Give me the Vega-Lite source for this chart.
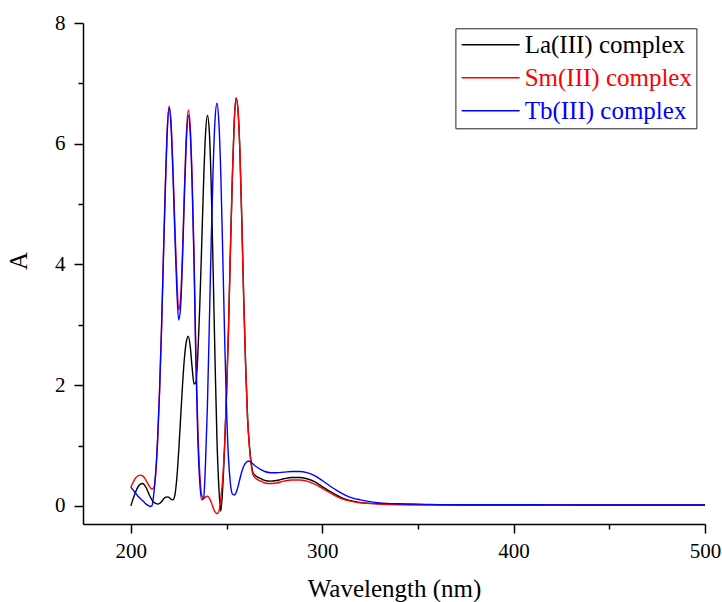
{
  "$schema": "https://vega.github.io/schema/vega-lite/v6.json",
  "width": 622,
  "height": 501,
  "autosize": {"type": "none"},
  "padding": {"left": 83, "top": 23, "right": 17, "bottom": 78},
  "background": "white",
  "config": {
    "view": {"stroke": null},
    "font": "Liberation Serif",
    "axis": {"grid": false, "domainColor": "black", "tickColor": "black", "labelColor": "black", "titleColor": "black", "domainWidth": 1.5, "tickWidth": 1.5, "labelFont": "Liberation Serif", "titleFont": "Liberation Serif", "titleFontWeight": "normal"}
  },
  "datasets": {
    "spectra": [
      {"w":200,"A":0.00,"s":"La(III) complex"},{"w":201,"A":0.10,"s":"La(III) complex"},{"w":202,"A":0.19,"s":"La(III) complex"},{"w":203,"A":0.27,"s":"La(III) complex"},{"w":204,"A":0.33,"s":"La(III) complex"},{"w":205,"A":0.36,"s":"La(III) complex"},{"w":206,"A":0.37,"s":"La(III) complex"},{"w":207,"A":0.35,"s":"La(III) complex"},{"w":208,"A":0.30,"s":"La(III) complex"},{"w":209,"A":0.23,"s":"La(III) complex"},{"w":210,"A":0.16,"s":"La(III) complex"},{"w":211,"A":0.10,"s":"La(III) complex"},{"w":212,"A":0.06,"s":"La(III) complex"},{"w":213,"A":0.04,"s":"La(III) complex"},{"w":214,"A":0.03,"s":"La(III) complex"},{"w":215,"A":0.04,"s":"La(III) complex"},{"w":216,"A":0.07,"s":"La(III) complex"},{"w":217,"A":0.11,"s":"La(III) complex"},{"w":218,"A":0.14,"s":"La(III) complex"},{"w":219,"A":0.15,"s":"La(III) complex"},{"w":220,"A":0.14,"s":"La(III) complex"},{"w":221,"A":0.11,"s":"La(III) complex"},{"w":222,"A":0.10,"s":"La(III) complex"},{"w":223,"A":0.18,"s":"La(III) complex"},{"w":224,"A":0.45,"s":"La(III) complex"},{"w":225,"A":0.9,"s":"La(III) complex"},{"w":226,"A":1.45,"s":"La(III) complex"},{"w":227,"A":2.0,"s":"La(III) complex"},{"w":228,"A":2.45,"s":"La(III) complex"},{"w":229,"A":2.72,"s":"La(III) complex"},{"w":230,"A":2.81,"s":"La(III) complex"},{"w":231,"A":2.65,"s":"La(III) complex"},{"w":232,"A":2.3,"s":"La(III) complex"},{"w":233,"A":2.02,"s":"La(III) complex"},{"w":234,"A":2.05,"s":"La(III) complex"},{"w":235,"A":2.5,"s":"La(III) complex"},{"w":236,"A":3.3,"s":"La(III) complex"},{"w":237,"A":4.3,"s":"La(III) complex"},{"w":238,"A":5.35,"s":"La(III) complex"},{"w":239,"A":6.15,"s":"La(III) complex"},{"w":240,"A":6.47,"s":"La(III) complex"},{"w":241,"A":6.2,"s":"La(III) complex"},{"w":242,"A":5.3,"s":"La(III) complex"},{"w":243,"A":3.9,"s":"La(III) complex"},{"w":244,"A":2.4,"s":"La(III) complex"},{"w":245,"A":1.1,"s":"La(III) complex"},{"w":246,"A":0.3,"s":"La(III) complex"},{"w":247,"A":-0.09,"s":"La(III) complex"},{"w":248,"A":0.3,"s":"La(III) complex"},{"w":249,"A":1.0,"s":"La(III) complex"},{"w":250,"A":1.85,"s":"La(III) complex"},{"w":251,"A":2.9,"s":"La(III) complex"},{"w":252,"A":4.2,"s":"La(III) complex"},{"w":253,"A":5.4,"s":"La(III) complex"},{"w":254,"A":6.35,"s":"La(III) complex"},{"w":255,"A":6.76,"s":"La(III) complex"},{"w":256,"A":6.55,"s":"La(III) complex"},{"w":257,"A":5.85,"s":"La(III) complex"},{"w":258,"A":4.7,"s":"La(III) complex"},{"w":259,"A":3.4,"s":"La(III) complex"},{"w":260,"A":2.3,"s":"La(III) complex"},{"w":261,"A":1.45,"s":"La(III) complex"},{"w":262,"A":0.98,"s":"La(III) complex"},{"w":263,"A":0.69,"s":"La(III) complex"},{"w":264,"A":0.54,"s":"La(III) complex"},{"w":266,"A":0.48,"s":"La(III) complex"},{"w":268,"A":0.45,"s":"La(III) complex"},{"w":270,"A":0.42,"s":"La(III) complex"},{"w":273,"A":0.41,"s":"La(III) complex"},{"w":276,"A":0.42,"s":"La(III) complex"},{"w":280,"A":0.45,"s":"La(III) complex"},{"w":284,"A":0.47,"s":"La(III) complex"},{"w":288,"A":0.47,"s":"La(III) complex"},{"w":292,"A":0.45,"s":"La(III) complex"},{"w":296,"A":0.4,"s":"La(III) complex"},{"w":300,"A":0.32,"s":"La(III) complex"},{"w":304,"A":0.24,"s":"La(III) complex"},{"w":308,"A":0.17,"s":"La(III) complex"},{"w":312,"A":0.11,"s":"La(III) complex"},{"w":316,"A":0.08,"s":"La(III) complex"},{"w":320,"A":0.055,"s":"La(III) complex"},{"w":330,"A":0.035,"s":"La(III) complex"},{"w":340,"A":0.025,"s":"La(III) complex"},{"w":360,"A":0.02,"s":"La(III) complex"},{"w":400,"A":0.015,"s":"La(III) complex"},{"w":450,"A":0.015,"s":"La(III) complex"},{"w":500,"A":0.015,"s":"La(III) complex"},

      {"w":200,"A":0.31,"s":"Sm(III) complex"},{"w":201,"A":0.38,"s":"Sm(III) complex"},{"w":202,"A":0.44,"s":"Sm(III) complex"},{"w":203,"A":0.48,"s":"Sm(III) complex"},{"w":204,"A":0.50,"s":"Sm(III) complex"},{"w":205,"A":0.51,"s":"Sm(III) complex"},{"w":206,"A":0.50,"s":"Sm(III) complex"},{"w":207,"A":0.47,"s":"Sm(III) complex"},{"w":208,"A":0.42,"s":"Sm(III) complex"},{"w":209,"A":0.36,"s":"Sm(III) complex"},{"w":210,"A":0.31,"s":"Sm(III) complex"},{"w":211,"A":0.28,"s":"Sm(III) complex"},{"w":212,"A":0.30,"s":"Sm(III) complex"},{"w":213,"A":0.55,"s":"Sm(III) complex"},{"w":214,"A":1.1,"s":"Sm(III) complex"},{"w":215,"A":1.9,"s":"Sm(III) complex"},{"w":216,"A":2.9,"s":"Sm(III) complex"},{"w":217,"A":4.1,"s":"Sm(III) complex"},{"w":218,"A":5.25,"s":"Sm(III) complex"},{"w":219,"A":6.2,"s":"Sm(III) complex"},{"w":220,"A":6.62,"s":"Sm(III) complex"},{"w":221,"A":6.35,"s":"Sm(III) complex"},{"w":222,"A":5.6,"s":"Sm(III) complex"},{"w":223,"A":4.65,"s":"Sm(III) complex"},{"w":224,"A":3.8,"s":"Sm(III) complex"},{"w":225,"A":3.25,"s":"Sm(III) complex"},{"w":226,"A":3.45,"s":"Sm(III) complex"},{"w":227,"A":4.2,"s":"Sm(III) complex"},{"w":228,"A":5.25,"s":"Sm(III) complex"},{"w":229,"A":6.15,"s":"Sm(III) complex"},{"w":230,"A":6.56,"s":"Sm(III) complex"},{"w":231,"A":6.3,"s":"Sm(III) complex"},{"w":232,"A":5.45,"s":"Sm(III) complex"},{"w":233,"A":4.2,"s":"Sm(III) complex"},{"w":234,"A":2.5,"s":"Sm(III) complex"},{"w":235,"A":1.3,"s":"Sm(III) complex"},{"w":236,"A":0.55,"s":"Sm(III) complex"},{"w":237,"A":0.18,"s":"Sm(III) complex"},{"w":238,"A":0.12,"s":"Sm(III) complex"},{"w":239,"A":0.15,"s":"Sm(III) complex"},{"w":240,"A":0.16,"s":"Sm(III) complex"},{"w":241,"A":0.13,"s":"Sm(III) complex"},{"w":242,"A":0.06,"s":"Sm(III) complex"},{"w":243,"A":-0.03,"s":"Sm(III) complex"},{"w":244,"A":-0.10,"s":"Sm(III) complex"},{"w":245,"A":-0.13,"s":"Sm(III) complex"},{"w":246,"A":-0.09,"s":"Sm(III) complex"},{"w":247,"A":0.12,"s":"Sm(III) complex"},{"w":248,"A":0.45,"s":"Sm(III) complex"},{"w":249,"A":1.0,"s":"Sm(III) complex"},{"w":250,"A":1.85,"s":"Sm(III) complex"},{"w":251,"A":2.9,"s":"Sm(III) complex"},{"w":252,"A":4.2,"s":"Sm(III) complex"},{"w":253,"A":5.4,"s":"Sm(III) complex"},{"w":254,"A":6.35,"s":"Sm(III) complex"},{"w":255,"A":6.76,"s":"Sm(III) complex"},{"w":256,"A":6.55,"s":"Sm(III) complex"},{"w":257,"A":5.85,"s":"Sm(III) complex"},{"w":258,"A":4.7,"s":"Sm(III) complex"},{"w":259,"A":3.4,"s":"Sm(III) complex"},{"w":260,"A":2.3,"s":"Sm(III) complex"},{"w":261,"A":1.45,"s":"Sm(III) complex"},{"w":262,"A":0.95,"s":"Sm(III) complex"},{"w":263,"A":0.65,"s":"Sm(III) complex"},{"w":264,"A":0.5,"s":"Sm(III) complex"},{"w":266,"A":0.44,"s":"Sm(III) complex"},{"w":268,"A":0.41,"s":"Sm(III) complex"},{"w":270,"A":0.38,"s":"Sm(III) complex"},{"w":273,"A":0.37,"s":"Sm(III) complex"},{"w":276,"A":0.38,"s":"Sm(III) complex"},{"w":280,"A":0.41,"s":"Sm(III) complex"},{"w":284,"A":0.43,"s":"Sm(III) complex"},{"w":288,"A":0.43,"s":"Sm(III) complex"},{"w":292,"A":0.41,"s":"Sm(III) complex"},{"w":296,"A":0.36,"s":"Sm(III) complex"},{"w":300,"A":0.29,"s":"Sm(III) complex"},{"w":304,"A":0.22,"s":"Sm(III) complex"},{"w":308,"A":0.15,"s":"Sm(III) complex"},{"w":312,"A":0.1,"s":"Sm(III) complex"},{"w":316,"A":0.07,"s":"Sm(III) complex"},{"w":320,"A":0.05,"s":"Sm(III) complex"},{"w":330,"A":0.03,"s":"Sm(III) complex"},{"w":340,"A":0.02,"s":"Sm(III) complex"},{"w":360,"A":0.015,"s":"Sm(III) complex"},{"w":400,"A":0.01,"s":"Sm(III) complex"},{"w":450,"A":0.01,"s":"Sm(III) complex"},{"w":500,"A":0.01,"s":"Sm(III) complex"},

      {"w":200,"A":0.31,"s":"Tb(III) complex"},{"w":201,"A":0.27,"s":"Tb(III) complex"},{"w":202,"A":0.23,"s":"Tb(III) complex"},{"w":203,"A":0.19,"s":"Tb(III) complex"},{"w":204,"A":0.15,"s":"Tb(III) complex"},{"w":205,"A":0.12,"s":"Tb(III) complex"},{"w":206,"A":0.09,"s":"Tb(III) complex"},{"w":207,"A":0.06,"s":"Tb(III) complex"},{"w":208,"A":0.03,"s":"Tb(III) complex"},{"w":209,"A":0.01,"s":"Tb(III) complex"},{"w":210,"A":-0.01,"s":"Tb(III) complex"},{"w":211,"A":0.0,"s":"Tb(III) complex"},{"w":212,"A":0.2,"s":"Tb(III) complex"},{"w":213,"A":0.55,"s":"Tb(III) complex"},{"w":214,"A":1.1,"s":"Tb(III) complex"},{"w":215,"A":1.9,"s":"Tb(III) complex"},{"w":216,"A":2.9,"s":"Tb(III) complex"},{"w":217,"A":4.1,"s":"Tb(III) complex"},{"w":218,"A":5.25,"s":"Tb(III) complex"},{"w":219,"A":6.2,"s":"Tb(III) complex"},{"w":220,"A":6.6,"s":"Tb(III) complex"},{"w":221,"A":6.3,"s":"Tb(III) complex"},{"w":222,"A":5.5,"s":"Tb(III) complex"},{"w":223,"A":4.5,"s":"Tb(III) complex"},{"w":224,"A":3.6,"s":"Tb(III) complex"},{"w":225,"A":3.08,"s":"Tb(III) complex"},{"w":226,"A":3.3,"s":"Tb(III) complex"},{"w":227,"A":4.1,"s":"Tb(III) complex"},{"w":228,"A":5.15,"s":"Tb(III) complex"},{"w":229,"A":6.05,"s":"Tb(III) complex"},{"w":230,"A":6.47,"s":"Tb(III) complex"},{"w":231,"A":6.2,"s":"Tb(III) complex"},{"w":232,"A":5.35,"s":"Tb(III) complex"},{"w":233,"A":4.05,"s":"Tb(III) complex"},{"w":234,"A":2.35,"s":"Tb(III) complex"},{"w":235,"A":1.1,"s":"Tb(III) complex"},{"w":236,"A":0.4,"s":"Tb(III) complex"},{"w":237,"A":0.1,"s":"Tb(III) complex"},{"w":238,"A":0.12,"s":"Tb(III) complex"},{"w":239,"A":0.7,"s":"Tb(III) complex"},{"w":240,"A":1.65,"s":"Tb(III) complex"},{"w":241,"A":3.0,"s":"Tb(III) complex"},{"w":242,"A":4.4,"s":"Tb(III) complex"},{"w":243,"A":5.6,"s":"Tb(III) complex"},{"w":244,"A":6.4,"s":"Tb(III) complex"},{"w":245,"A":6.67,"s":"Tb(III) complex"},{"w":246,"A":6.35,"s":"Tb(III) complex"},{"w":247,"A":5.5,"s":"Tb(III) complex"},{"w":248,"A":4.2,"s":"Tb(III) complex"},{"w":249,"A":2.8,"s":"Tb(III) complex"},{"w":250,"A":1.6,"s":"Tb(III) complex"},{"w":251,"A":0.8,"s":"Tb(III) complex"},{"w":252,"A":0.38,"s":"Tb(III) complex"},{"w":253,"A":0.2,"s":"Tb(III) complex"},{"w":254,"A":0.18,"s":"Tb(III) complex"},{"w":255,"A":0.22,"s":"Tb(III) complex"},{"w":256,"A":0.32,"s":"Tb(III) complex"},{"w":257,"A":0.45,"s":"Tb(III) complex"},{"w":258,"A":0.57,"s":"Tb(III) complex"},{"w":259,"A":0.66,"s":"Tb(III) complex"},{"w":260,"A":0.71,"s":"Tb(III) complex"},{"w":261,"A":0.74,"s":"Tb(III) complex"},{"w":262,"A":0.74,"s":"Tb(III) complex"},{"w":263,"A":0.72,"s":"Tb(III) complex"},{"w":264,"A":0.69,"s":"Tb(III) complex"},{"w":266,"A":0.64,"s":"Tb(III) complex"},{"w":268,"A":0.6,"s":"Tb(III) complex"},{"w":270,"A":0.57,"s":"Tb(III) complex"},{"w":273,"A":0.55,"s":"Tb(III) complex"},{"w":276,"A":0.55,"s":"Tb(III) complex"},{"w":280,"A":0.56,"s":"Tb(III) complex"},{"w":284,"A":0.57,"s":"Tb(III) complex"},{"w":288,"A":0.57,"s":"Tb(III) complex"},{"w":292,"A":0.55,"s":"Tb(III) complex"},{"w":296,"A":0.5,"s":"Tb(III) complex"},{"w":300,"A":0.42,"s":"Tb(III) complex"},{"w":304,"A":0.33,"s":"Tb(III) complex"},{"w":308,"A":0.25,"s":"Tb(III) complex"},{"w":312,"A":0.18,"s":"Tb(III) complex"},{"w":316,"A":0.13,"s":"Tb(III) complex"},{"w":320,"A":0.1,"s":"Tb(III) complex"},{"w":325,"A":0.07,"s":"Tb(III) complex"},{"w":330,"A":0.05,"s":"Tb(III) complex"},{"w":340,"A":0.035,"s":"Tb(III) complex"},{"w":350,"A":0.03,"s":"Tb(III) complex"},{"w":370,"A":0.02,"s":"Tb(III) complex"},{"w":400,"A":0.02,"s":"Tb(III) complex"},{"w":450,"A":0.015,"s":"Tb(III) complex"},{"w":500,"A":0.015,"s":"Tb(III) complex"}
    ]
  },
  "data": {"name": "spectra"},
  "resolve": {"axis": {"x": "independent", "y": "independent"}},
  "layer": [
    {
      "mark": {"type": "point", "opacity": 0, "size": 0},
      "encoding": {
        "x": {"field": "w", "type": "quantitative", "scale": {"domain": [175, 500], "nice": false, "zero": false},
          "axis": {"orient": "bottom", "values": [250, 350, 450], "labels": false, "domain": false, "tickSize": 5, "title": null}},
        "y": {"field": "A", "type": "quantitative", "scale": {"domain": [-0.3, 8], "nice": false, "zero": false},
          "axis": {"orient": "left", "values": [1, 3, 5, 7], "labels": false, "domain": false, "tickSize": 5, "title": null}}
      }
    },
    {
      "mark": {"type": "line", "strokeWidth": 1.4, "interpolate": "monotone"},
      "encoding": {
        "x": {"field": "w", "type": "quantitative", "scale": {"domain": [175, 500], "nice": false, "zero": false},
          "axis": {"orient": "bottom", "values": [200, 300, 400, 500], "format": "d", "tickSize": 9, "labelPadding": 24, "labelBaseline": "alphabetic", "labelFontSize": 21, "labelFont": "Liberation Serif", "labelFlush": false,
            "title": "Wavelength (nm)", "titleFont": "Liberation Serif", "titleFontSize": 25, "titleBaseline": "alphabetic", "titleX": 311, "titleY": 72, "titleAlign": "center"}},
        "y": {"field": "A", "type": "quantitative", "scale": {"domain": [-0.3, 8], "nice": false, "zero": false},
          "axis": {"orient": "left", "values": [0, 2, 4, 6, 8], "format": "d", "tickSize": 9, "labelPadding": 9, "labelBaseline": "middle", "labelFontSize": 21, "labelFont": "Liberation Serif", "labelFlush": false,
            "title": "A", "titleFont": "Liberation Serif", "titleFontSize": 25, "titleAngle": -90, "titleBaseline": "middle", "titleAlign": "center", "titleX": -65, "titleY": 237.5}},
        "color": {"field": "s", "type": "nominal",
          "scale": {"domain": ["La(III) complex", "Sm(III) complex", "Tb(III) complex"], "range": ["#000000", "#ff0000", "#0000ff"]},
          "legend": {"orient": "none", "legendX": 372.4, "legendY": 5.3, "title": null, "symbolType": "M-4,0H4", "symbolSize": 210, "symbolStrokeWidth": 1.5, "symbolOffset": 18.75,
            "labelFontSize": 25, "labelFont": "Liberation Serif", "labelOffset": 21.5, "labelLimit": 400, "strokeColor": "#222222", "fillColor": "white", "padding": 4, "rowPadding": 7,
            "encode": {"labels": {"update": {"fill": {"scale": "color", "field": "value"}}}}}
        }
      }
    }
  ]
}
